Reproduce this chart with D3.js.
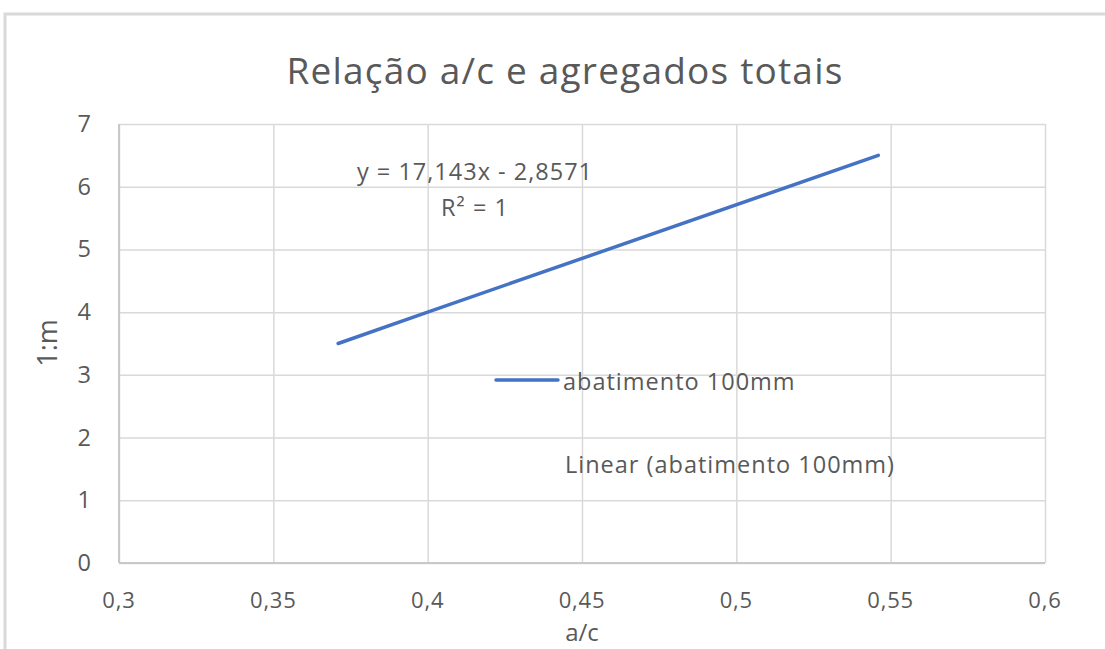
<!DOCTYPE html>
<html>
<head>
<meta charset="utf-8">
<script src="https://cdn.jsdelivr.net/npm/d3@7"></script>
<style>
  html, body { margin: 0; padding: 0; background: #fff; }
  svg { display: block; font-family: "Open Sans", "Noto Sans", sans-serif; }
</style>
</head>
<body>
<svg id="chart" width="1105" height="649"></svg>
<script>
// Relação água/cimento (a/c) x traço 1:m
const acValues = [0.371, 0.4, 0.546];
const mValues = [3.5, 4.0, 6.5];
const seriesName = "abatimento 100mm";
const trendName = "Linear (abatimento 100mm)";
const xTickValues = [0.3, 0.35, 0.4, 0.45, 0.5, 0.55, 0.6];
const yTickValues = [0, 1, 2, 3, 4, 5, 6, 7];
const titleText = "Relação a/c e agregados totais";
const xAxisTitle = "a/c";
const yAxisTitle = "1:m";
const equationText = "y = 17,143x - 2,8571";
const r2Text = "R² = 1";

const ptBR = d3.formatLocale({ decimal: ",", thousands: ".", grouping: [3], currency: ["R$", ""] });
const fmt = ptBR.format("~g");

const svg = d3.select("#chart");
const W = 1105, H = 649;
const plot = { left: 119, right: 1045, top: 124, bottom: 563 };

const x = d3.scaleLinear().domain([0.3, 0.6]).range([plot.left, plot.right]);
const y = d3.scaleLinear().domain([0, 7]).range([plot.bottom, plot.top]);

const textColor = "#595959";
const gridColor = "#d9d9d9";
const lineColor = "#4472c4";
const labelSize = "23.5px";
const labelSpacing = "1px";

// chart area frame
svg.append("rect")
  .attr("x", 5).attr("y", 14)
  .attr("width", W + 20).attr("height", H + 20)
  .attr("fill", "#fff")
  .attr("stroke", "#d9d9d9").attr("stroke-width", 3);

// title
svg.append("text")
  .attr("x", 565).attr("y", 84)
  .attr("text-anchor", "middle")
  .attr("fill", textColor)
  .style("font-size", "37px")
  .style("letter-spacing", "1.2px")
  .text(titleText);

// gridlines
const gy = svg.append("g")
  .attr("transform", `translate(${plot.left},0)`)
  .call(d3.axisLeft(y).tickValues(yTickValues).tickSize(-(plot.right - plot.left)).tickFormat(""));
gy.select(".domain").remove();
gy.selectAll(".tick line").attr("stroke", gridColor).attr("stroke-width", 1.5);

const gx = svg.append("g")
  .attr("transform", `translate(0,${plot.bottom})`)
  .call(d3.axisBottom(x).tickValues(xTickValues).tickSize(-(plot.bottom - plot.top)).tickFormat(""));
gx.select(".domain").remove();
gx.selectAll(".tick line").attr("stroke", gridColor).attr("stroke-width", 1.5);

// plot borders (left and bottom axis lines)
svg.append("line")
  .attr("x1", plot.left).attr("x2", plot.left)
  .attr("y1", plot.top).attr("y2", plot.bottom)
  .attr("stroke", "#c8c8c8").attr("stroke-width", 2);
svg.append("line")
  .attr("x1", plot.left).attr("x2", plot.right)
  .attr("y1", plot.bottom).attr("y2", plot.bottom)
  .attr("stroke", "#c8c8c8").attr("stroke-width", 2);

// tick labels
svg.append("g").selectAll("text")
  .data(yTickValues).join("text")
  .attr("x", 91).attr("y", d => y(d) + 8)
  .attr("text-anchor", "end")
  .attr("fill", textColor)
  .style("font-size", labelSize)
  .text(d => fmt(d));

svg.append("g").selectAll("text")
  .data(xTickValues).join("text")
  .attr("x", d => x(d)).attr("y", 608)
  .attr("text-anchor", "middle")
  .attr("fill", textColor)
  .style("font-size", "22px")
  .style("letter-spacing", "0.8px")
  .text(d => fmt(d));

// axis titles
svg.append("text")
  .attr("x", 582).attr("y", 641)
  .attr("text-anchor", "middle")
  .attr("fill", textColor)
  .style("font-size", "24px")
  .text(xAxisTitle);

svg.append("text")
  .attr("transform", "translate(57,343) rotate(-90)")
  .attr("text-anchor", "middle")
  .attr("fill", textColor)
  .style("font-size", "27px")
  .text(yAxisTitle);

// data series
const line = d3.line().x((d, i) => x(acValues[i])).y(d => y(d));
svg.append("path")
  .datum(mValues)
  .attr("d", line)
  .attr("fill", "none")
  .attr("stroke", lineColor)
  .attr("stroke-width", 3.5)
  .attr("stroke-linecap", "round");

// trendline label
svg.append("text")
  .attr("x", 475).attr("y", 180)
  .attr("text-anchor", "middle")
  .attr("fill", textColor)
  .style("font-size", labelSize)
  .style("letter-spacing", labelSpacing)
  .text(equationText);
svg.append("text")
  .attr("x", 475).attr("y", 216)
  .attr("text-anchor", "middle")
  .attr("fill", textColor)
  .style("font-size", labelSize)
  .style("letter-spacing", labelSpacing)
  .text(r2Text);

// legend
svg.append("line")
  .attr("x1", 496).attr("x2", 558)
  .attr("y1", 380).attr("y2", 380)
  .attr("stroke", lineColor).attr("stroke-width", 3.5)
  .attr("stroke-linecap", "round");
svg.append("text")
  .attr("x", 563).attr("y", 390)
  .attr("fill", textColor)
  .style("font-size", labelSize)
  .style("letter-spacing", labelSpacing)
  .text(seriesName);
svg.append("text")
  .attr("x", 565).attr("y", 473)
  .attr("fill", textColor)
  .style("font-size", labelSize)
  .style("letter-spacing", labelSpacing)
  .text(trendName);
</script>
</body>
</html>
